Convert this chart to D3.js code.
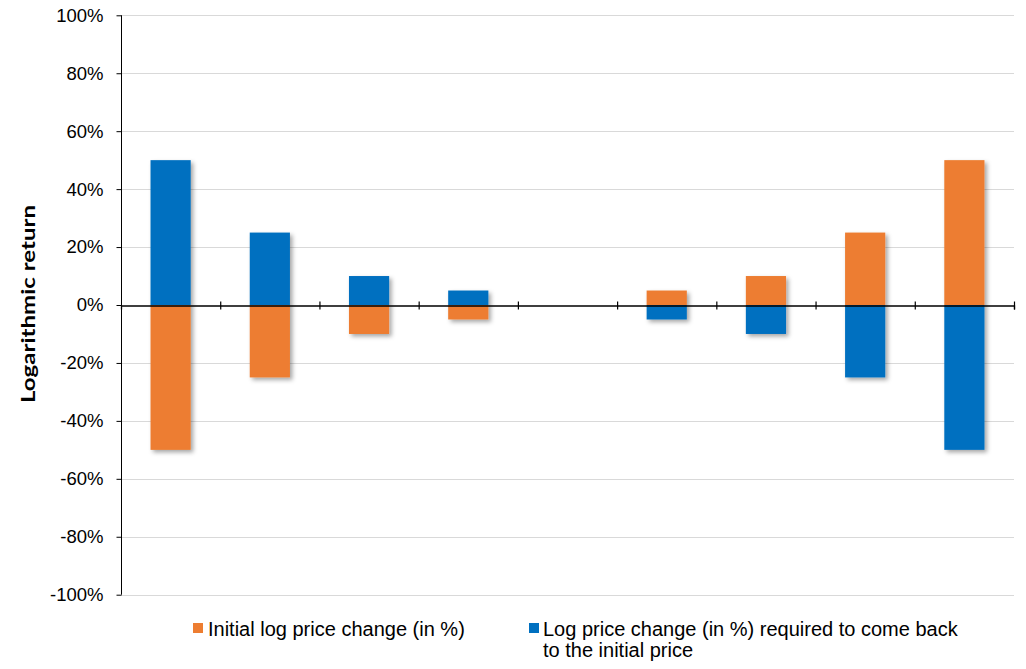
<!DOCTYPE html>
<html>
<head>
<meta charset="utf-8">
<script src="https://cdn.jsdelivr.net/npm/d3@7/dist/d3.min.js"></script>
<style>
  html, body { margin: 0; padding: 0; background: #fff; }
  svg { display: block; }
</style>
</head>
<body>
<svg id="chart" width="1026" height="669"></svg>
<script>
// ---- Data ----
const categories = ["1", "2", "3", "4", "5", "6", "7", "8", "9"];
const initialChange = [-50, -25, -10, -5, null, 5, 10, 25, 50];
const requiredChange = [50, 25, 10, 5, null, -5, -10, -25, -50];
const yTicks = [-100, -80, -60, -40, -20, 0, 20, 40, 60, 80, 100];
const seriesNames = ["Initial log price change (in %)", "Log price change (in %) required to come back", "to the initial price"];
const yTitle = "Logarithmic return";

// ---- Layout ----
const W = 1026, H = 669;
const mLeft = 121, mRight = 1014, mTop = 15.3, mBottom = 594.7;
const orange = "#ED7D31", blue = "#0070C0";

const svg = d3.select("#chart");

const defs = svg.append("defs");
const f = defs.append("filter").attr("id", "shadow")
  .attr("x", "-20%").attr("y", "-20%").attr("width", "150%").attr("height", "150%");
f.append("feDropShadow").attr("dx", 2.5).attr("dy", 2.5).attr("stdDeviation", 2)
  .attr("flood-color", "#000").attr("flood-opacity", 0.35);

const y = d3.scaleLinear().domain([-100, 100]).range([mBottom, mTop]);
const x = d3.scaleBand().domain(categories).range([mLeft, mRight]).paddingInner(0.595).paddingOuter(0.2975);
const xb = d3.scaleLinear().domain([0, categories.length]).range([mLeft, mRight]);

// gridlines
svg.append("g").selectAll("line").data(yTicks.filter(d => d !== 0)).join("line")
  .attr("x1", mLeft).attr("x2", mRight)
  .attr("y1", d => Math.round(y(d)) + 0.5).attr("y2", d => Math.round(y(d)) + 0.5)
  .attr("stroke", "#d9d9d9").attr("stroke-width", 1);

// bars
const barG = svg.append("g").attr("filter", "url(#shadow)");
function drawSeries(vals, color) {
  const data = categories.map((c, i) => ({ c, v: vals[i] })).filter(d => d.v !== null);
  barG.append("g").selectAll("rect").data(data).join("rect")
    .attr("x", d => x(d.c))
    .attr("width", x.bandwidth())
    .attr("y", d => y(Math.max(0, d.v)))
    .attr("height", d => Math.abs(y(d.v) - y(0)))
    .attr("fill", color);
}
drawSeries(initialChange, orange);
drawSeries(requiredChange, blue);

// y axis
const yAxis = svg.append("g").attr("transform", `translate(${mLeft + 0.5},0)`)
  .call(d3.axisLeft(y).tickValues(yTicks).tickSize(5).tickPadding(13).tickFormat(d => d + "%"));
yAxis.select(".domain").attr("stroke", "#000").attr("d", `M0,${mTop}V${mBottom}`);
yAxis.selectAll(".tick line").attr("stroke", "#000");
yAxis.selectAll(".tick text").attr("font-family", "Liberation Sans, Arial, sans-serif")
  .attr("font-size", 18.5).attr("fill", "#000");

// x axis at zero
const xAxis = svg.append("g").attr("transform", `translate(0,${Math.round(y(0)) + 0.5})`)
  .call(d3.axisBottom(xb).tickValues(d3.range(1, categories.length + 1)).tickSizeOuter(0).tickSize(4).tickFormat(""));
xAxis.select(".domain").attr("stroke", "#000").attr("stroke-width", 1.3);
xAxis.selectAll(".tick line").attr("y1", -4).attr("y2", 4).attr("stroke", "#000").attr("stroke-width", 1.2);

// y title
svg.append("text")
  .attr("transform", `translate(35,304) rotate(-90)`)
  .attr("text-anchor", "middle")
  .attr("font-family", "Lato, 'Open Sans', sans-serif")
  .attr("font-weight", "bold")
  .attr("font-size", 19)
  .attr("textLength", 198).attr("lengthAdjust", "spacingAndGlyphs")
  .attr("fill", "#000")
  .text(yTitle);

// legend
const lg = svg.append("g").attr("font-family", "Liberation Sans, Arial, sans-serif").attr("font-size", 20).attr("fill", "#000");
lg.append("rect").attr("x", 193).attr("y", 623).attr("width", 10).attr("height", 10).attr("fill", orange);
lg.append("text").attr("x", 208).attr("y", 636).text(seriesNames[0]);
lg.append("rect").attr("x", 529).attr("y", 623).attr("width", 10).attr("height", 10).attr("fill", blue);
lg.append("text").attr("x", 543).attr("y", 636).text(seriesNames[1]);
lg.append("text").attr("x", 543).attr("y", 657).text(seriesNames[2]);
</script>
</body>
</html>
